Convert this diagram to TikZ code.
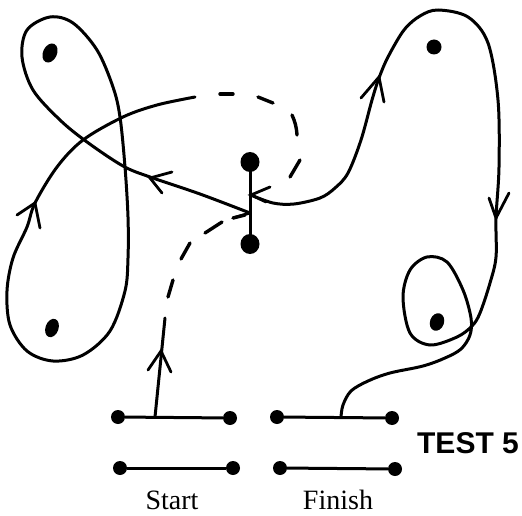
\documentclass[tikz,border=0pt]{standalone}
\usepackage{fontspec}
\setmainfont{Liberation Serif}
\newfontfamily\labelsans{Liberation Sans}
\begin{document}
\begin{tikzpicture}[x=1pt,y=-1pt,
  pen/.style={line width=3pt,line cap=round,line join=round},
  dsh/.style={line width=3.4pt,line cap=round},
  tipv/.style={line width=2.8pt,line cap=round,line join=miter},
  enddot/.style={circle,fill,inner sep=0pt,minimum size=14pt},
  bar/.style={line width=3pt},
  lbl/.style={anchor=base,inner sep=0pt,font=\fontsize{28}{30}\selectfont}]
\useasboundingbox (0,0) rectangle (522,516);

% bars
\node[enddot] (s1) at (118,417) {};
\node[enddot] (s2) at (230,418) {};
\node[enddot] (s3) at (120,468) {};
\node[enddot] (s4) at (233,468) {};
\node[enddot] (f1) at (277,417) {};
\node[enddot] (f2) at (392,418) {};
\node[enddot] (f3) at (280,468) {};
\node[enddot] (f4) at (395,469) {};
\draw[bar] (s1) -- (s2);
\draw[bar] (s3) -- (s4);
\draw[bar] (f1) -- (f2);
\draw[bar] (f3) -- (f4);

% labels
\node[lbl] (start) at (172,509) {Start};
\node[lbl] (finish) at (338,509) {Finish};
\node[anchor=base,inner sep=0pt,font=\labelsans\bfseries\fontsize{30}{32}\selectfont] (test) at (468,453) {TEST 5};

% dots
\fill (50,53) ellipse [x radius=7pt, y radius=10pt, rotate=-25];
\fill (52,328) ellipse [x radius=6.5pt, y radius=9.5pt, rotate=-20];
\fill (434,47) circle [radius=7.5pt];
\fill (437,322) ellipse [x radius=7pt, y radius=9pt, rotate=-20];
\fill (250,162) ellipse [x radius=9.5pt, y radius=10pt];
\fill (250,244) ellipse [x radius=9.5pt, y radius=10pt];

% central bar
\coordinate (jn) at (250,213);
\draw[pen] (250,162) -- (250,244);

% start line
\coordinate (sx) at (155,417);
\draw[pen] (sx) -- (165,318);
\draw[tipv] (148,370) -- (161,351) -- (171,372);

% lower dashed
\draw[dsh] (168,297) -- (173,280);
\draw[dsh] (181,259) -- (190,243);
\draw[dsh] (205,233) -- (222,222);
\draw[dsh] (233,218) -- (245,215);
\draw[tipv] (233,218) -- (jn);

% left big curve
\draw[pen] plot[smooth,tension=0.55] coordinates {
 (250,213) (200,194) (150,177) (123,166) (87,142) (60,120) (33,90) (22,57)
 (27,30) (50,17) (73,23) (97,50) (113,87) (120,117) (125,167) (128,217)
 (128,258) (125,291) (110,331) (83,355) (53,361) (27,351) (10,325) (7,291)
 (13,258) (27,227) (35,203) (57,167) (83,140) (123,117) (157,105) (195,97)};
\draw[tipv] (172,172) -- (150,178) -- (162,193);
\draw[tipv] (17,215) -- (35,203) -- (40,228);

% upper dashed arc
\draw[dsh] (220,94) -- (233,94);
\draw[dsh] (258,97) -- (273,103);
\draw[dsh] (292,115) to[bend left=10] (297,135);
\draw[dsh] (290,177) -- (300,160);

% right curve to finish
\coordinate (fx) at (341,417);
\draw[pen] plot[smooth,tension=0.55] coordinates {
 (251,195) (273,203) (294,204) (320,198) (335,188) (348,173) (361,140)
 (372,100) (379,78) (388,57) (404,30) (420,16) (438,10) (468,17) (488,43)
 (498,100) (499,167) (496,218) (496,257) (490,283) (480,313) (472,326)
 (457,337) (430,345) (410,333) (403,297) (410,270) (427,257) (447,262)
 (463,290) (471,318) (470,335) (461,349) (445,358) (423,366) (390,373)
 (368,381) (351,391) (343,405) (341,417)};
\draw[tipv] (270,187) -- (251,195) -- (266,202);
\draw[tipv] (361,98) -- (379,77) -- (384,102);
\draw[tipv] (489,198) -- (496,218) -- (509,193);
\end{tikzpicture}
\end{document}
